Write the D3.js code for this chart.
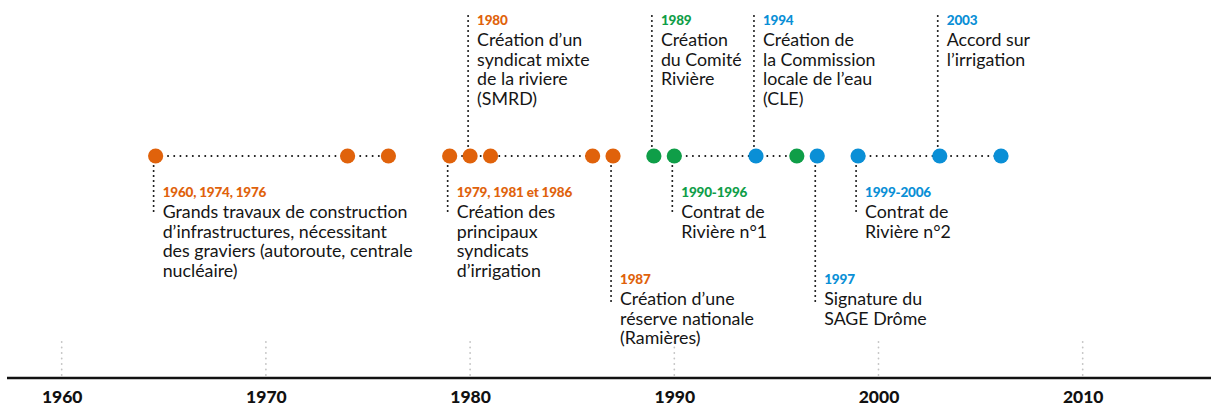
<!DOCTYPE html>
<html>
<head>
<meta charset="utf-8">
<script src="https://cdn.jsdelivr.net/npm/d3@7"></script>
<style>
  html, body { margin: 0; padding: 0; background: #fff; }
  svg { display: block; font-family: Lato, "Open Sans", sans-serif; }
</style>
</head>
<body>
<svg id="chart"></svg>
<script>
// data
// dot positions (years); the 1960 event is drawn at ~1964.6 on the original
const dotYears = [1964.6, 1974, 1976, 1979, 1980, 1981, 1986, 1987, 1989, 1990, 1994, 1996, 1997, 1999, 2003, 2006];
const dotPhase = ["p1", "p1", "p1", "p1", "p1", "p1", "p1", "p1", "p2", "p2", "p3", "p2", "p3", "p3", "p3", "p3"];

// dotted connections between dots (periods)
const spanStart = [1964.6, 1979, 1990, 1999];
const spanEnd = [1976, 1986, 1996, 2006];

// annotations
const noteAnchor = [1964.6, 1980, 1979, 1987, 1989, 1990, 1994, 1997, 1999, 2003];
const notePhase = ["p1", "p1", "p1", "p1", "p2", "p2", "p3", "p3", "p3", "p3"];
const noteLevel = [1, -1, 1, 2, -1, 1, -1, 2, 1, -1];
const noteTitles = ["1960, 1974, 1976", "1980", "1979, 1981 et 1986", "1987", "1989", "1990-1996", "1994", "1997", "1999-2006", "2003"];
const noteLines = [
  ["Grands travaux de construction", "d\u2019infrastructures, nécessitant", "des graviers (autoroute, centrale", "nucléaire)"],
  ["Création d\u2019un", "syndicat mixte", "de la riviere", "(SMRD)"],
  ["Création des", "principaux", "syndicats", "d\u2019irrigation"],
  ["Création d\u2019une", "réserve nationale", "(Ramières)"],
  ["Création", "du Comité", "Rivière"],
  ["Contrat de", "Rivière n°1"],
  ["Création de", "la Commission", "locale de l\u2019eau", "(CLE)"],
  ["Signature du", "SAGE Drôme"],
  ["Contrat de", "Rivière n°2"],
  ["Accord sur", "l\u2019irrigation"]
];

const tickYears = [1960, 1970, 1980, 1990, 2000, 2010];

document.addEventListener("DOMContentLoaded", () => {
  const width = 1211;
  const height = 411;
  const dotY = 156;
  const axisY = 378;
  const lineH = 19.7;

  const color = d3.scaleOrdinal()
    .domain(["p1", "p2", "p3"])
    .range(["#e0620b", "#0f9e48", "#0a8fd6"]);

  const x = d3.scaleLinear()
    .domain([1960, 2010])
    .range([61.7, 1082.7]);

  const svg = d3.select("#chart")
    .attr("width", width)
    .attr("height", height);

  // vertical light grid at decades
  svg.append("g")
    .selectAll("line")
    .data(tickYears)
    .join("line")
    .attr("x1", d => x(d))
    .attr("x2", d => x(d))
    .attr("y1", 342)
    .attr("y2", axisY - 2)
    .attr("stroke", "#c4c4c4")
    .attr("stroke-width", 1.8)
    .attr("stroke-linecap", "round")
    .attr("stroke-dasharray", "0,5.5");

  // axis
  const axis = svg.append("g")
    .attr("transform", `translate(0,${axisY})`)
    .call(d3.axisBottom(x).tickValues(tickYears).tickSize(0).tickPadding(13).tickFormat(d3.format("d")));
  axis.select(".domain").remove();
  axis.selectAll("text")
    .attr("font-family", "Lato, sans-serif")
    .attr("font-size", 17.5)
    .attr("font-weight", 900)
    .attr("fill", "#111");
  axis.append("line")
    .attr("x1", 7)
    .attr("x2", width)
    .attr("stroke", "#111")
    .attr("stroke-width", 2.6);

  // dotted span lines
  svg.append("g")
    .selectAll("line")
    .data(d3.range(spanStart.length))
    .join("line")
    .attr("x1", i => x(spanStart[i]))
    .attr("x2", i => x(spanEnd[i]))
    .attr("y1", dotY)
    .attr("y2", dotY)
    .attr("stroke", "#111")
    .attr("stroke-width", 2)
    .attr("stroke-linecap", "round")
    .attr("stroke-dasharray", "0,6.2");

  // leaders
  const leaderEnd = { "-1": 15, "1": 213, "2": 305 };
  svg.append("g")
    .selectAll("line")
    .data(d3.range(noteAnchor.length))
    .join("line")
    .attr("x1", i => x(noteAnchor[i]) - 2)
    .attr("x2", i => x(noteAnchor[i]) - 2)
    .attr("y1", dotY)
    .attr("y2", i => leaderEnd[noteLevel[i]])
    .attr("stroke", "#111")
    .attr("stroke-width", 2)
    .attr("stroke-linecap", "round")
    .attr("stroke-dasharray", "0,5");

  // dots
  svg.append("g")
    .selectAll("circle")
    .data(dotYears)
    .join("circle")
    .attr("cx", d => x(d))
    .attr("cy", dotY)
    .attr("r", 7.6)
    .attr("fill", (d, i) => color(dotPhase[i]));

  // notes
  const titleBase = { "-1": 25, "1": 197, "2": 284 };
  const note = svg.append("g")
    .selectAll("g")
    .data(d3.range(noteAnchor.length))
    .join("g")
    .attr("transform", i => `translate(${x(noteAnchor[i]) + 7},${titleBase[noteLevel[i]]})`);

  note.append("text")
    .attr("font-size", 13.5)
    .attr("font-weight", 900)
    .attr("letter-spacing", -0.2)
    .attr("fill", i => color(notePhase[i]))
    .text(i => noteTitles[i]);

  note.append("text")
    .attr("font-size", 17.8)
    .attr("fill", "#151515")
    .selectAll("tspan")
    .data(i => noteLines[i])
    .join("tspan")
    .attr("x", 0)
    .attr("y", (d, j) => 21 + j * lineH)
    .text(d => d);
});
</script>
</body>
</html>
